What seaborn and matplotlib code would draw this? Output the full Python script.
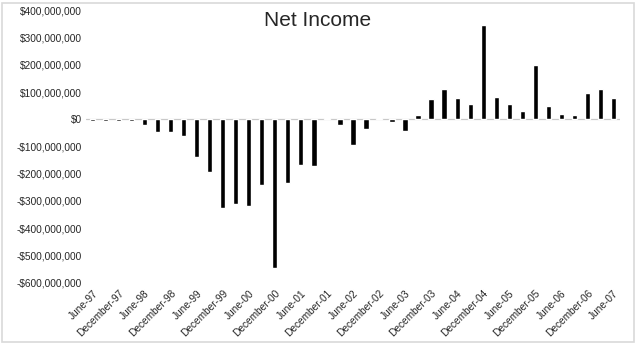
import matplotlib
matplotlib.use("Agg")
import matplotlib.pyplot as plt
import matplotlib.ticker as mticker
from matplotlib.patches import Rectangle
import seaborn as sns
import pandas as pd

quarters = [
    "June-97", "September-97", "December-97", "March-98", "June-98", "September-98",
    "December-98", "March-99", "June-99", "September-99", "December-99", "March-00",
    "June-00", "September-00", "December-00", "March-01", "June-01", "September-01",
    "December-01", "March-02", "June-02", "September-02", "December-02", "March-03",
    "June-03", "September-03", "December-03", "March-04", "June-04", "September-04",
    "December-04", "March-05", "June-05", "September-05", "December-05", "March-06",
    "June-06", "September-06", "December-06", "March-07", "June-07",
]
net_income_millions = [
    -7, -8, -8, -8, -22, -47, -47, -63, -140, -195,
    -325, -311, -318, -240, -545, -234, -168, -171, 3, -22,
    -95, -35, 3, -10, -44, 16, 73, 111, 77, 55,
    345, 81, 55, 30, 198, 50, 21, 17, 96, 110,
    79,
]
y_ticks_millions = [400, 300, 200, 100, 0, -100, -200, -300, -400, -500, -600]

df = pd.DataFrame({"quarter": quarters,
                   "income": [v * 1e6 for v in net_income_millions]})

sns.set_style("white")
plt.rcParams["font.family"] = ["Liberation Sans", "DejaVu Sans"]

fig = plt.figure(figsize=(6.4, 3.45), dpi=100)
ax = fig.add_axes([0.1345, 0.181, 0.834, 0.789])

sns.barplot(data=df, x="quarter", y="income", color="black", width=0.4,
            saturation=1, ax=ax)

ax.set_xlim(-0.5, len(quarters) - 0.5)
ax.set_ylim(-600e6, 400e6)
ax.set_yticks([v * 1e6 for v in y_ticks_millions])

def fmt(v, pos):
    v = int(round(v))
    if v < 0:
        return "-${:,}".format(-v)
    return "${:,}".format(v)

ax.yaxis.set_major_formatter(mticker.FuncFormatter(fmt))
ax.set_xticks(range(0, len(quarters), 2))
ax.set_xticklabels(quarters[::2], rotation=45, ha="right", rotation_mode="anchor")
ax.tick_params(axis="both", labelsize=7.3, length=0, pad=3)
ax.tick_params(axis="x", pad=4)
ax.set_xlabel("")
ax.set_ylabel("")
for s in ax.spines.values():
    s.set_visible(False)
ax.axhline(0, color="#c8c8c8", lw=0.9, zorder=0)

fig.text(0.496, 0.942, "Net Income", ha="center", va="center", fontsize=15)

fig.patches.append(Rectangle((2 / 640, 3 / 345), 632 / 640, 339 / 345,
                             transform=fig.transFigure, fill=False,
                             edgecolor="#d9d9d9", lw=1.2))

fig.savefig("out.png", dpi=100)
